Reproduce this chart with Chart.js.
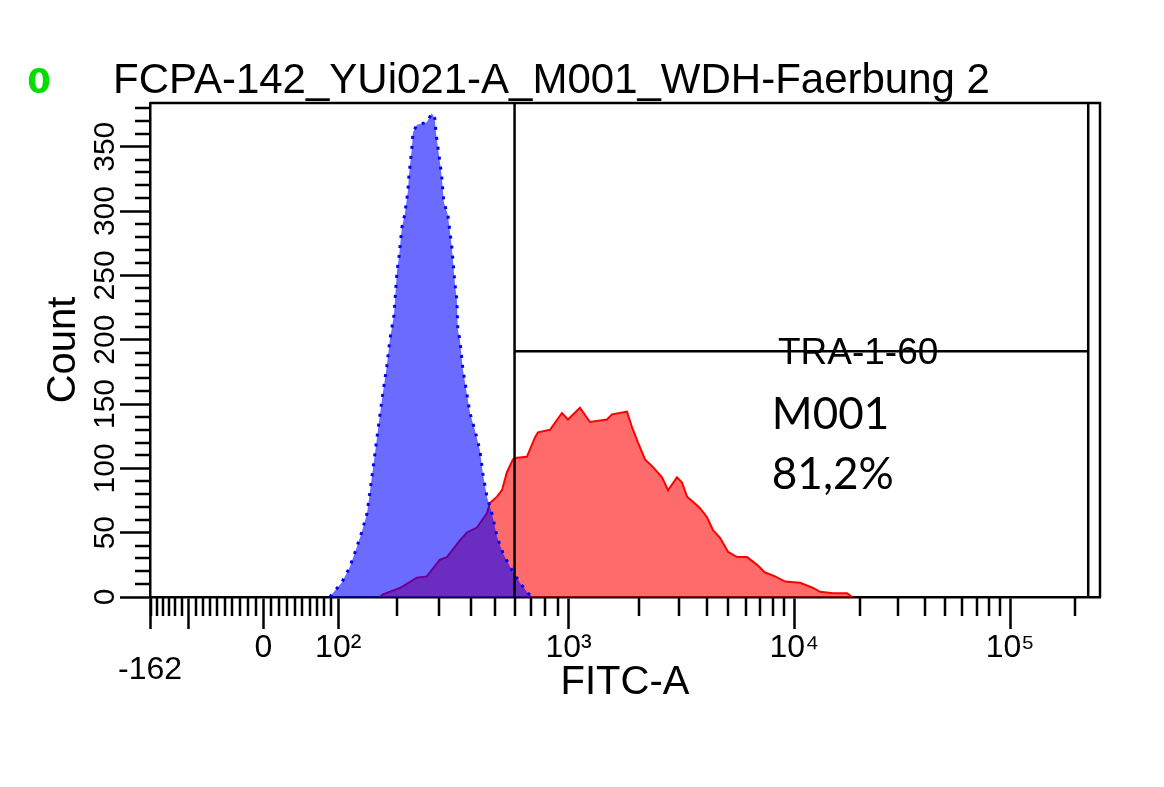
<!DOCTYPE html>
<html>
<head>
<meta charset="utf-8">
<title>FCPA-142 FITC-A</title>
<script src="https://cdn.jsdelivr.net/npm/chart.js@4.4.1/dist/chart.umd.min.js"></script>
<style>
  html, body { margin: 0; padding: 0; background: #fff; }
  #wrap { width: 1164px; height: 787px; position: relative; }
</style>
</head>
<body>
<div id="wrap"><canvas id="histo"></canvas></div>
<script>
const sampleName = "FCPA-142_YUi021-A_M001_WDH-Faerbung 2";

// blue = control, red = TRA-1-60 stained (FITC-A value, count)
const blueFitc = [88, 92, 105, 117, 125, 136, 145, 155, 164, 171,
    180, 186, 194, 200, 204, 210, 216, 223, 225, 232,
    234, 243, 267, 280, 288, 291, 302, 307, 313, 325,
    337, 347, 353, 356, 363, 373, 398, 416, 436, 448,
    465, 487, 510, 539, 585, 631, 680, 712];
const blueCount = [0, 3, 11, 23, 34, 50, 65, 99, 130, 153,
    179, 200, 219, 253, 264, 287, 297, 316, 327, 350,
    361, 367, 369, 376, 372, 361, 338, 327, 307, 297,
    272, 243, 231, 208, 200, 177, 143, 130, 114, 96,
    78, 65, 47, 34, 21, 11, 3, 0];

const redFitc = [167, 173, 206, 243, 267, 302, 322, 363, 387, 424,
    465, 478, 510, 534, 559, 591, 602, 673, 726, 747,
    837, 938, 994, 1116, 1231, 1455, 1529, 1775, 1866, 1982,
    2127, 2307, 2527, 2686, 2945, 3100, 3264, 3472, 3733, 4013,
    4270, 4594, 4996, 5485, 6089, 6765, 7356, 8171, 9085, 10643,
    12217, 13157, 15098, 17530, 18490];
const redCount = [0, 2, 7, 15, 16, 29, 31, 44, 50, 54,
    65, 73, 78, 83, 97, 107, 108, 109, 124, 128,
    130, 143, 138, 147, 136, 138, 142, 144, 132, 120,
    107, 101, 93, 83, 93, 89, 78, 74, 69, 62,
    52, 46, 35, 31, 31, 25, 19, 16, 12, 11,
    7, 4, 3, 3, 0];

const xTickValues = [-162, -100, 0, 100, 1000, 10000, 100000];
const xTickLabels = [["", "-162"], "", "0", "10²", "10³", "10⁴", "10⁵"];
const yTickValues = [0, 50, 100, 150, 200, 250, 300, 350];

const xMin = -162;
const xMax = 262144;
const yMax = 384;

const gateName = "TRA-1-60";
const gateLow = 600;
const gateHigh = 231000;
const gateLevel = 191;
const gateStats = ["M001", "81,2%"];

// minor tick marks
const xMinorTicks = [];
for (let v = -160; v < 100; v += 10) {
    if (v % 100 !== 0) xMinorTicks.push(v);
}
for (const d of [100, 1000, 10000, 100000]) {
    for (let k = 2; k <= 9; k++) {
        if (d * k < xMax) xMinorTicks.push(d * k);
    }
}
const yMinorTicks = [];
for (let v = 10; v < yMax; v += 10) {
    if (v % 50 !== 0) yMinorTicks.push(v);
}

// logicle (biexponential) transform
const LOG_T = 262144, LOG_W = 0.6, LOG_M = 4.5;
function solveP(w) {
    let lo = 1.0001, hi = 100;
    for (let i = 0; i < 80; i++) {
        const mid = (lo + hi) / 2;
        if (2 * mid * Math.log10(mid) / (mid + 1) < w) lo = mid; else hi = mid;
    }
    return (lo + hi) / 2;
}
const P = solveP(LOG_W);
const A_SCALE = LOG_T * Math.pow(10, -(LOG_M - LOG_W));
function logicleG(u) {
    return Math.pow(10, u) - P * P * Math.pow(10, -u / P) + P * P - 1;
}
function toDecades(v) {
    const target = Math.abs(v) / A_SCALE;
    let lo = 0, hi = 8;
    for (let i = 0; i < 60; i++) {
        const mid = (lo + hi) / 2;
        if (logicleG(mid) < target) lo = mid; else hi = mid;
    }
    const u = (lo + hi) / 2;
    return v < 0 ? -u : u;
}
function fromDecades(u) {
    const s = A_SCALE * logicleG(Math.abs(u));
    return u < 0 ? -s : s;
}

class LogicleScale extends Chart.LinearScale {
    static id = 'logicle';
    static defaults = Chart.LinearScale.defaults;
    configure() {
        super.configure();
        this._uStart = toDecades(this.min);
        this._uEnd = toDecades(this.max);
    }
    getPixelForValue(value) {
        if (value === null || value === undefined || isNaN(value)) return NaN;
        return this.getPixelForDecimal((toDecades(value) - this._uStart) / (this._uEnd - this._uStart));
    }
    getValueForPixel(pixel) {
        const d = this.getDecimalForPixel(pixel);
        return fromDecades(this._uStart + d * (this._uEnd - this._uStart));
    }
    getPixelForTick(index) {
        const ticks = this.ticks;
        if (index < 0 || index > ticks.length - 1) return null;
        return this.getPixelForValue(ticks[index].value);
    }
}
Chart.register(LogicleScale);

function points(xs, ys) {
    return xs.map((x, i) => ({ x: x, y: ys[i] }));
}

const gatePoints = [
    { x: gateLow, y: 0 }, { x: gateLow, y: yMax }, { x: gateLow, y: null },
    { x: gateLow, y: gateLevel }, { x: gateHigh, y: gateLevel }, { x: gateHigh, y: null },
    { x: gateHigh, y: 0 }, { x: gateHigh, y: yMax }
];

const frameAndTicks = {
    id: 'frameAndTicks',
    afterDraw(chart) {
        const ctx = chart.ctx;
        const area = chart.chartArea;
        const x = chart.scales.x;
        const y = chart.scales.y;
        ctx.save();
        ctx.strokeStyle = '#000';
        ctx.lineWidth = 2.5;
        ctx.beginPath();
        ctx.moveTo(area.left, area.top);
        ctx.lineTo(area.right, area.top);
        ctx.lineTo(area.right, area.bottom);
        ctx.stroke();

        ctx.lineWidth = 2.5;
        ctx.beginPath();
        for (const v of xMinorTicks) {
            const px = Math.round(x.getPixelForValue(v));
            ctx.moveTo(px, area.bottom);
            ctx.lineTo(px, area.bottom + 19);
        }
        for (const v of yMinorTicks) {
            const py = Math.round(y.getPixelForValue(v));
            ctx.moveTo(area.left, py);
            ctx.lineTo(area.left - 15, py);
        }
        ctx.stroke();

        // sample header
        ctx.textBaseline = 'alphabetic';
        ctx.textAlign = 'center';
        ctx.fillStyle = '#00dd00';
        ctx.font = 'bold 34px "DejaVu Sans"';
        ctx.fillText('0', 39, 93);
        ctx.textAlign = 'left';
        ctx.fillStyle = '#000';
        ctx.font = '42px "Liberation Sans"';
        ctx.fillText(sampleName, 113, 93);

        // gate label and stats
        ctx.textBaseline = 'middle';
        ctx.textAlign = 'center';
        ctx.font = '37px "Liberation Sans"';
        ctx.fillText(gateName, x.getPixelForValue(19700), y.getPixelForValue(gateLevel) + 3);
        ctx.textAlign = 'left';
        ctx.font = '44px Lato';
        ctx.fillText(gateStats[0], x.getPixelForValue(7900), y.getPixelForValue(141.5));
        ctx.fillText(gateStats[1], x.getPixelForValue(7900), y.getPixelForValue(94.9));
        ctx.restore();
    }
};

Chart.defaults.font.family = '"Liberation Sans", Arial, sans-serif';
Chart.defaults.color = '#000';

new Chart(document.getElementById('histo'), {
    type: 'line',
    data: {
        datasets: [{
            label: gateName,
            data: gatePoints,
            borderColor: '#000',
            borderWidth: 2.5,
            pointRadius: 0,
            fill: false,
            spanGaps: false
        }, {
            label: 'control',
            data: points(blueFitc, blueCount),
            borderColor: '#0000ff',
            borderWidth: 3,
            borderDash: [3, 7],
            backgroundColor: 'rgba(0, 0, 255, 0.58)',
            pointRadius: 0,
            fill: 'origin'
        }, {
            label: 'stained',
            data: points(redFitc, redCount),
            borderColor: '#ff0000',
            borderWidth: 2,
            backgroundColor: 'rgba(255, 0, 0, 0.58)',
            pointRadius: 0,
            fill: 'origin'
        }]
    },
    options: {
        responsive: true,
        maintainAspectRatio: false,
        animation: false,
        layout: { padding: { left: 20, top: 103, right: 64, bottom: 70 } },
        plugins: {
            legend: { display: false },
            tooltip: { enabled: false },
            title: { display: false }
        },
        scales: {
            x: {
                type: 'logicle',
                min: xMin,
                max: xMax,
                bounds: 'data',
                afterBuildTicks: (axis) => {
                    axis.ticks = xTickValues.map(v => ({ value: v }));
                },
                afterFit: (axis) => { axis.height = 120; },
                grid: {
                    drawOnChartArea: false,
                    drawTicks: true,
                    tickLength: 32,
                    tickWidth: 2.5,
                    tickColor: '#000'
                },
                border: { display: true, color: '#000', width: 2.5 },
                ticks: {
                    autoSkip: false,
                    maxRotation: 0,
                    padding: 8,
                    font: { size: 32, lineHeight: '22px' },
                    callback: (value) => xTickLabels[xTickValues.indexOf(value)]
                },
                title: {
                    display: true,
                    text: 'FITC-A',
                    font: { size: 40 },
                    padding: { top: 0, bottom: 10 }
                }
            },
            y: {
                type: 'linear',
                min: 0,
                max: yMax,
                afterBuildTicks: (axis) => {
                    axis.ticks = yTickValues.map(v => ({ value: v }));
                },
                afterFit: (axis) => { axis.width = 130; },
                grid: {
                    drawOnChartArea: false,
                    drawTicks: true,
                    tickLength: 30,
                    tickWidth: 2.5,
                    tickColor: '#000'
                },
                border: { display: true, color: '#000', width: 2.5 },
                ticks: {
                    autoSkip: false,
                    minRotation: 90,
                    maxRotation: 90,
                    crossAlign: 'center',
                    padding: -11,
                    font: { size: 30 },
                    callback: (value) => String(value)
                },
                title: {
                    display: true,
                    text: 'Count',
                    font: { size: 40 },
                    padding: { top: 20, bottom: 0 }
                }
            }
        }
    },
    plugins: [frameAndTicks]
});
</script>
</body>
</html>
